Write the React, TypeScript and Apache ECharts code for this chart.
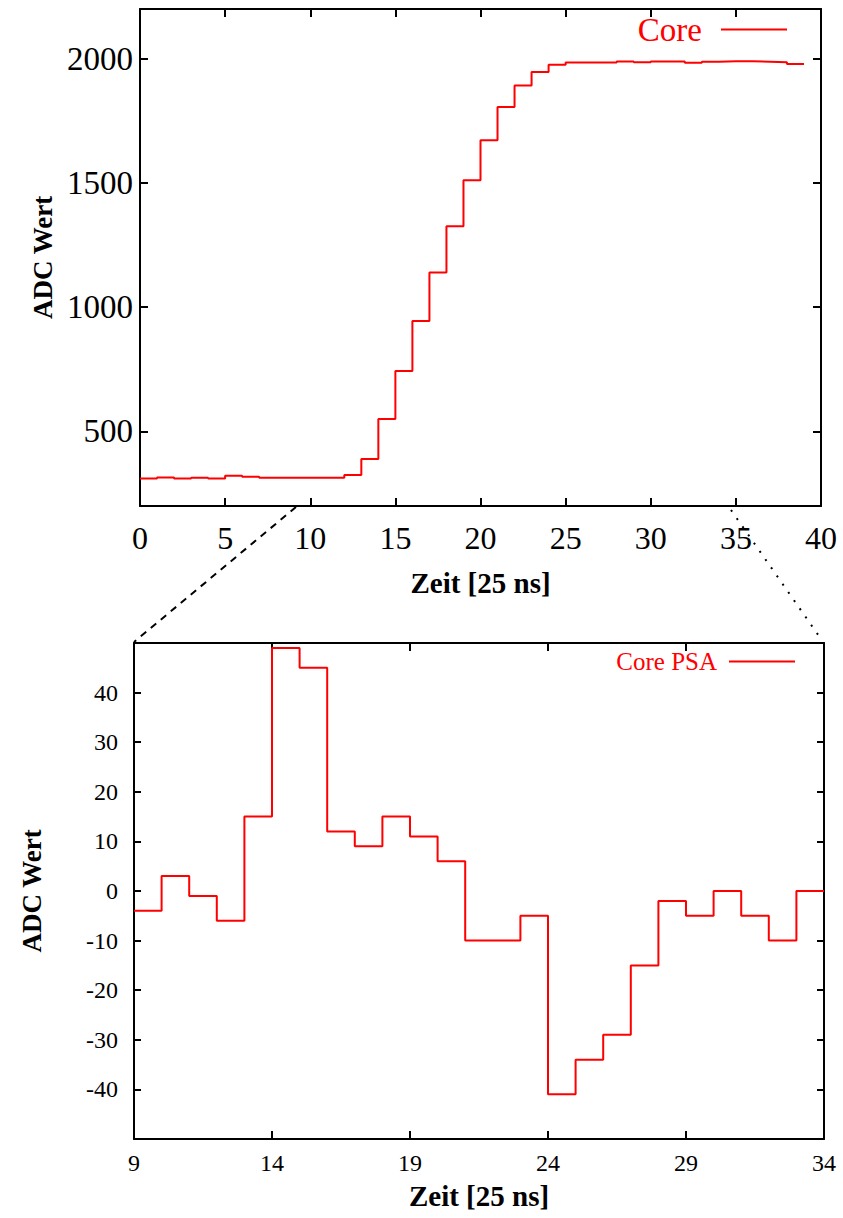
import React, { useEffect, useRef } from "react";
import * as echarts from "echarts";

// Top panel: full trace
const coreX = [0, 1, 2, 3, 4, 5, 6, 7, 8, 9, 10, 11, 12, 13, 14, 15, 16, 17, 18, 19, 20, 21, 22, 23, 24, 25, 26, 27, 28, 29, 30, 31, 32, 33, 34, 35, 36, 37, 38, 39];
const coreValues = [311, 315, 311, 314, 311, 322, 318, 314, 314, 314, 314, 314, 325, 389, 550, 743, 944, 1140, 1326, 1511, 1672, 1806, 1892, 1946, 1976, 1985, 1985, 1985, 1989, 1986, 1989, 1989, 1984, 1988, 1990, 1990, 1988, 1986, 1979, 1979];
const topXTicks = [0, 5, 10, 15, 20, 25, 30, 35, 40];
const topYTicks = [500, 1000, 1500, 2000];

// Bottom panel: PSA zoom
const psaX = [9, 10, 11, 12, 13, 14, 15, 16, 17, 18, 19, 20, 21, 22, 23, 24, 25, 26, 27, 28, 29, 30, 31, 32, 33, 34];
const psaValues = [-4, 3, -1, -6, 15, 49, 45, 12, 9, 15, 11, 6, -10, -10, -5, -41, -34, -29, -15, -2, -5, 0, -5, -10, 0, 0];
const bottomXTicks = [9, 14, 19, 24, 29, 34];
const bottomYLabels = [-40, -30, -20, -10, 0, 10, 20, 30, 40];

const FONT = "'Liberation Serif', 'Times New Roman', serif";
const plain = (v: number) => String(v);

export default function App() {
  const ref = useRef<HTMLDivElement>(null);
  useEffect(() => {
    if (!ref.current) return;
    const chart = echarts.init(ref.current, null, { renderer: "svg" });
    const axisLine = { show: true, onZero: false, lineStyle: { color: "#000", width: 2 } };
    const tick = (len: number, custom?: number[]) => {
      const t: any = { show: true, inside: true, length: len, lineStyle: { color: "#000", width: 2 } };
      if (custom) t.customValues = custom;
      return t;
    };
    const option: any = {
      animation: false,
      backgroundColor: "#fff",
      textStyle: { fontFamily: FONT },
      grid: [
        { left: 140, top: 9, width: 681, height: 497, outerBoundsMode: "none", containLabel: false },
        { left: 134, top: 643, width: 690, height: 496, outerBoundsMode: "none", containLabel: false },
      ],
      legend: [
        {
          data: ["Core"],
          right: 51,
          top: 8,
          align: "right",
          icon: "rect",
          itemWidth: 66,
          itemHeight: 2,
          textStyle: { color: "#ff0000", fontSize: 33, fontFamily: FONT, padding: [0, 14, 0, 0] },
        },
        {
          data: ["Core PSA"],
          right: 43,
          top: 644,
          align: "right",
          icon: "rect",
          itemWidth: 66,
          itemHeight: 2,
          textStyle: { color: "#ff0000", fontSize: 25, fontFamily: FONT, padding: [0, 7, 0, 0] },
        },
      ],
      xAxis: [
        {
          type: "value",
          gridIndex: 0,
          min: 0,
          max: 40,
          interval: 5,
          name: "Zeit [25 ns]",
          nameLocation: "middle",
          nameGap: 62,
          nameTextStyle: { fontSize: 29, fontWeight: "bold", color: "#000", fontFamily: FONT },
          axisLine,
          axisTick: tick(8, topXTicks),
          axisLabel: { show: true, margin: 16, fontSize: 32, color: "#000", fontFamily: FONT, customValues: topXTicks, formatter: plain },
          splitLine: { show: false },
        },
        {
          type: "value",
          gridIndex: 0,
          position: "top",
          min: 0,
          max: 40,
          interval: 5,
          axisLine,
          axisTick: tick(8, topXTicks),
          axisLabel: { show: false },
          splitLine: { show: false },
        },
        {
          type: "value",
          gridIndex: 1,
          min: 9,
          max: 34,
          name: "Zeit [25 ns]",
          nameLocation: "middle",
          nameGap: 42,
          nameTextStyle: { fontSize: 29, fontWeight: "bold", color: "#000", fontFamily: FONT },
          axisLine,
          axisTick: tick(8, bottomXTicks),
          axisLabel: { show: true, margin: 12, fontSize: 24, color: "#000", fontFamily: FONT, customValues: bottomXTicks, formatter: plain },
          splitLine: { show: false },
        },
        {
          type: "value",
          gridIndex: 1,
          position: "top",
          min: 9,
          max: 34,
          axisLine,
          axisTick: tick(8, bottomXTicks),
          axisLabel: { show: false },
          splitLine: { show: false },
        },
      ],
      yAxis: [
        {
          type: "value",
          gridIndex: 0,
          min: 200,
          max: 2200,
          name: "ADC Wert",
          nameLocation: "middle",
          nameGap: 84,
          nameTextStyle: { fontSize: 27, fontWeight: "bold", color: "#000", fontFamily: FONT },
          axisLine,
          axisTick: tick(8, topYTicks),
          axisLabel: { show: true, margin: 7, fontSize: 33, color: "#000", fontFamily: FONT, customValues: topYTicks, formatter: plain },
          splitLine: { show: false },
        },
        {
          type: "value",
          gridIndex: 0,
          position: "right",
          min: 200,
          max: 2200,
          axisLine,
          axisTick: tick(8, topYTicks),
          axisLabel: { show: false },
          splitLine: { show: false },
        },
        {
          type: "value",
          gridIndex: 1,
          min: -50,
          max: 50,
          interval: 10,
          name: "ADC Wert",
          nameLocation: "middle",
          nameGap: 89,
          nameTextStyle: { fontSize: 27, fontWeight: "bold", color: "#000", fontFamily: FONT },
          axisLine,
          axisTick: tick(7),
          axisLabel: { show: true, margin: 16, fontSize: 24, color: "#000", fontFamily: FONT, customValues: bottomYLabels, formatter: plain },
          splitLine: { show: false },
        },
        {
          type: "value",
          gridIndex: 1,
          position: "right",
          min: -50,
          max: 50,
          interval: 10,
          axisLine,
          axisTick: tick(7),
          axisLabel: { show: false },
          splitLine: { show: false },
        },
      ],
      series: [
        {
          name: "Core",
          type: "line",
          xAxisIndex: 0,
          yAxisIndex: 0,
          step: "end",
          symbol: "none",
          color: "#ff0000",
          lineStyle: { color: "#ff0000", width: 2 },
          data: coreX.map((x, i) => [x, coreValues[i]]),
        },
        {
          name: "Core PSA",
          type: "line",
          xAxisIndex: 2,
          yAxisIndex: 2,
          step: "end",
          symbol: "none",
          color: "#ff0000",
          lineStyle: { color: "#ff0000", width: 2 },
          data: psaX.map((x, i) => [x, psaValues[i]]),
        },
      ],
      graphic: [
        {
          type: "line",
          shape: { x1: 296, y1: 507, x2: 134, y2: 642 },
          style: { stroke: "#000", lineWidth: 2, lineDash: [7, 6] },
          silent: true,
        },
        {
          type: "line",
          shape: { x1: 731, y1: 510, x2: 821, y2: 639 },
          style: { stroke: "#000", lineWidth: 2, lineDash: [2, 8] },
          silent: true,
        },
      ],
    };
    chart.setOption(option);
    return () => chart.dispose();
  }, []);
  return (
    <div
      ref={ref}
      style={{ position: "absolute", left: 0, top: 0, width: 843, height: 1218, background: "#fff" }}
    />
  );
}
